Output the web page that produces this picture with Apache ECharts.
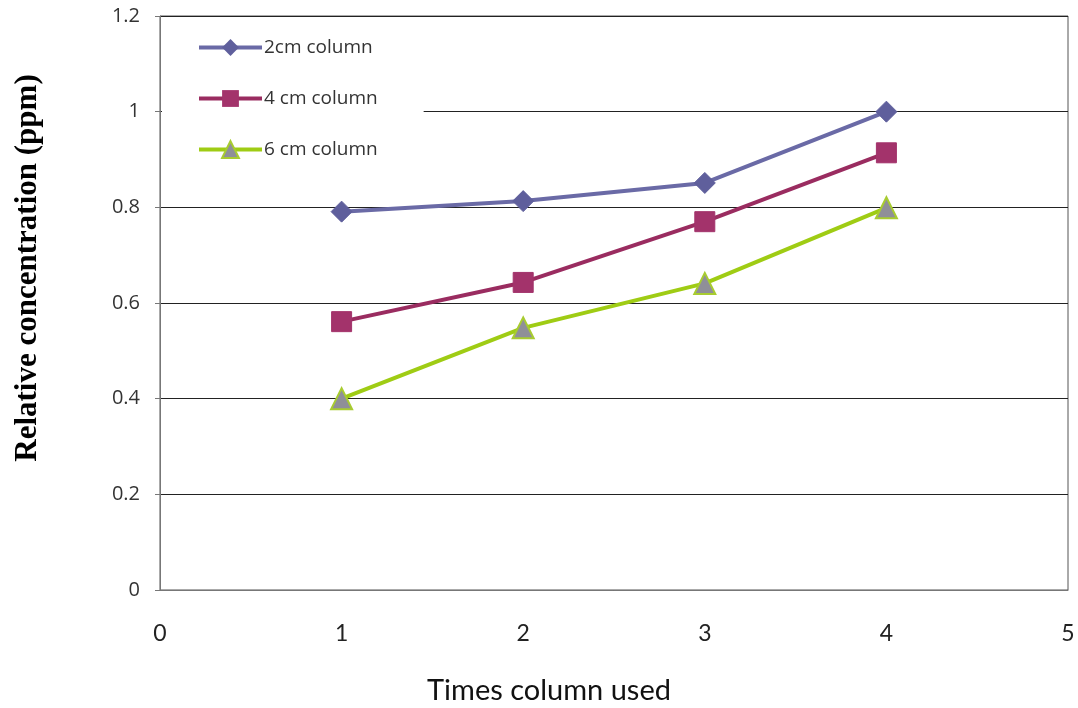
<!DOCTYPE html>
<html>
<head>
<meta charset="utf-8">
<script src="https://cdn.jsdelivr.net/npm/echarts@6/dist/echarts.min.js"></script>
<style>
html,body{margin:0;padding:0;background:#fff;}
#chart{width:1078px;height:708px;}
</style>
</head>
<body>
<div id="chart"></div>
<script>
const xValues = [1, 2, 3, 4];
const series2cm = [0.791, 0.813, 0.851, 1.0];
const series4cm = [0.561, 0.643, 0.770, 0.914];
const series6cm = [0.400, 0.548, 0.641, 0.799];
const seriesNames = ['2cm column', '4 cm column', '6 cm column'];
const xTicks = [0, 1, 2, 3, 4, 5];
const yTicks = [0, 0.2, 0.4, 0.6, 0.8, 1, 1.2];

function pairs(vals){ return xValues.map((x,i)=>[x, vals[i]]); }

const chart = echarts.init(document.getElementById('chart'));
chart.setOption({
  backgroundColor: '#fff',
  animation: false,
  grid: {left: 160, right: 10, top: 16, bottom: 118, show: true, borderColor: '#555', borderWidth: 1,
         containLabel: false, outerBoundsMode: 'none'},
  legend: {
    orient: 'vertical',
    left: 162, top: 26,
    padding: [12, 46, 14, 35],
    backgroundColor: '#fff',
    itemGap: 32,
    itemWidth: 63, itemHeight: 21,
    lineStyle: {width: 4},
    textStyle: {fontFamily: 'Open Sans', fontSize: 19, color: '#333', padding: [0,0,0,-3]},
    data: seriesNames
  },
  xAxis: {
    type: 'value', min: xTicks[0], max: xTicks[xTicks.length-1], interval: 1,
    name: 'Times column used', nameLocation: 'middle', nameGap: 86,
    nameTextStyle: {fontFamily: 'Lato', fontSize: 29, color: '#111', padding: [0, 130, 0, 0]},
    axisLine: {show: true, lineStyle: {color: '#777', width: 1}},
    axisTick: {show: false},
    splitLine: {show: false},
    axisLabel: {fontFamily: 'Lato', fontSize: 23, color: '#222', margin: 32}
  },
  yAxis: {
    type: 'value', min: yTicks[0], max: yTicks[yTicks.length-1], interval: 0.2,
    name: 'Relative concentration (ppm)', nameLocation: 'middle', nameGap: 117, nameRotate: 90,
    nameTextStyle: {fontFamily: 'Liberation Serif', fontWeight: 'bold', fontSize: 31, color: '#000', padding: [0, 0, 0, 70]},
    axisLine: {show: true, lineStyle: {color: '#777', width: 1}},
    axisTick: {show: true, inside: false, length: 5, lineStyle: {color: '#777'}},
    splitLine: {show: true, lineStyle: {color: '#222', width: 1}},
    axisLabel: {fontFamily: 'Open Sans', fontSize: 20, color: '#333', margin: 20,
      formatter: v => String(Math.round(v*10)/10)}
  },
  series: [
    {name: seriesNames[0], type: 'line', data: pairs(series2cm),
     symbol: 'diamond', symbolSize: 21,
     lineStyle: {color: '#6a6aa6', width: 4},
     itemStyle: {color: '#5f5f9c', borderColor: '#5f5f9c'}, z: 3},
    {name: seriesNames[1], type: 'line', data: pairs(series4cm),
     symbol: 'rect', symbolSize: 20,
     lineStyle: {color: '#9a2c60', width: 4},
     itemStyle: {color: '#a3336b', borderColor: '#a3336b'}, z: 3},
    {name: seriesNames[2], type: 'line', data: pairs(series6cm),
     symbol: 'triangle', symbolSize: 21,
     lineStyle: {color: '#9fcc14', width: 4},
     itemStyle: {color: '#8f8f98', borderColor: '#a8cc30', borderWidth: 2}, z: 3}
  ]
});
</script>
</body>
</html>
